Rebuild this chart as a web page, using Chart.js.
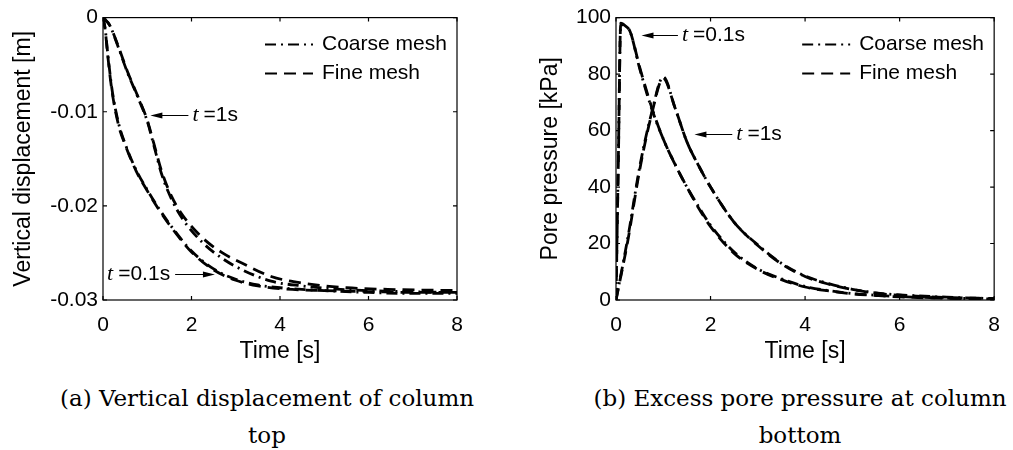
<!DOCTYPE html>
<html>
<head>
<meta charset="utf-8">
<script src="https://cdn.jsdelivr.net/npm/chart.js@4.4.0/dist/chart.umd.min.js"></script>
<style>
body { margin: 0; background: #fff; width: 1013px; height: 450px; overflow: hidden; position: relative; }
.box { position: absolute; top: 0; }
.cap { position: absolute; top: 380px; width: 500px; font-family: "DejaVu Serif", serif; font-size: 23px; color: #000; text-align: center; line-height: 37px; white-space: nowrap; }
</style>
</head>
<body>
<div class="box" style="left:0px"><canvas id="dispChart" width="500" height="380"></canvas></div>
<div class="box" style="left:506px"><canvas id="poreChart" width="507" height="380"></canvas></div>
<div class="cap" style="left:17px">(a) Vertical displacement of column<br>top</div>
<div class="cap" style="left:550px">(b) Excess pore pressure at column<br>bottom</div>
<script>
// time axis shared by both plots
var timeTicks = [0, 2, 4, 6, 8];

// (a) vertical displacement of column top [m]
var dispTickValues = [0, -0.01, -0.02, -0.03];
var dispTickLabels = ['0', '-0.01', '-0.02', '-0.03'];

var dispTimeFast = [0, 0.05, 0.1, 0.2, 0.35, 0.5, 0.75, 1.0, 1.25, 1.5, 2.0, 2.5, 3.0, 3.5, 4.0, 5.0, 6.0, 7.0, 8.0];
var dispCoarseFast = [0, -0.0012, -0.0035, -0.0075, -0.0112, -0.0134, -0.0162, -0.0183, -0.0202, -0.0219, -0.0248, -0.0267, -0.0278, -0.0284, -0.0287, -0.0290, -0.0292, -0.0293, -0.0293];
var dispFineFast = [0, -0.0013, -0.0037, -0.0077, -0.0114, -0.0135, -0.0163, -0.0184, -0.0203, -0.0220, -0.0249, -0.0268, -0.0279, -0.0285, -0.0288, -0.0290, -0.0291, -0.0292, -0.0292];

var dispTimeSlow = [0, 0.15, 0.35, 0.55, 0.8, 1.0, 1.15, 1.33, 1.55, 1.8, 2.25, 2.7, 3.15, 3.8, 4.5, 5.5, 6.7, 8.0];
var dispCoarseSlow = [0, -0.0008, -0.0032, -0.0058, -0.0086, -0.0110, -0.0136, -0.0167, -0.0193, -0.0214, -0.0239, -0.0256, -0.0268, -0.0280, -0.0285, -0.0289, -0.0291, -0.0292];
var dispFineSlow = [0, -0.0008, -0.0031, -0.0057, -0.0085, -0.0109, -0.0134, -0.0164, -0.0190, -0.0210, -0.0234, -0.0250, -0.0261, -0.0275, -0.0282, -0.0287, -0.0289, -0.0290];

// (b) excess pore pressure at column bottom [kPa]
var poreTickValues = [0, 20, 40, 60, 80, 100];
var poreTickLabels = ['0', '20', '40', '60', '80', '100'];

var poreTimeFast = [0, 0.05, 0.1, 0.2, 0.3, 0.5, 0.75, 1.0, 1.25, 1.5, 1.75, 2.0, 2.5, 3.0, 3.5, 4.0, 4.5, 5.0, 5.5, 6.0, 7.0, 8.0];
var poreCoarseFast = [0, 50, 98, 97, 95, 82, 68, 57, 48, 40, 33, 26.5, 17, 11, 7.5, 4.8, 3.3, 2.3, 1.7, 1.2, 0.7, 0.3];
var poreFineFast = [0, 49, 97.5, 97, 95, 82.5, 68.5, 57, 48, 40, 32.5, 26, 16.5, 10.8, 7.2, 4.6, 3.2, 2.2, 1.6, 1.1, 0.6, 0.3];

var poreTimeSlow = [0, 0.25, 0.5, 0.75, 1.0, 1.25, 1.5, 1.75, 2.0, 2.5, 3.0, 3.5, 4.0, 4.5, 5.0, 5.5, 6.0, 7.0, 8.0];
var poreCoarseSlow = [0, 22, 47, 66, 79, 68, 56, 47.5, 40, 27.5, 19.5, 13, 8.5, 5.8, 3.8, 2.5, 1.8, 1.0, 0.5];
var poreFineSlow = [0, 21, 46, 65.5, 78.5, 68, 56, 47.5, 40, 27.5, 19.3, 12.8, 8.3, 5.6, 3.7, 2.4, 1.7, 0.9, 0.5];

var seriesNames = ['Coarse mesh', 'Fine mesh'];
var seriesDash = [[11, 5, 2, 5], [12, 7]];

Chart.defaults.font.family = '"Liberation Sans", Arial, sans-serif';
Chart.defaults.font.size = 21;
Chart.defaults.color = '#000';

function pts(xs, ys) {
    return xs.map(function(x, i) { return {x: x, y: ys[i]}; });
}

function curve(xs, ys, dash) {
    return {
        data: pts(xs, ys),
        borderColor: '#000',
        borderWidth: 2.8,
        borderDash: dash,
        pointRadius: 0,
        fill: false,
        cubicInterpolationMode: 'monotone'
    };
}

// MATLAB style box with inward ticks on all four sides
var frameTicks = {
    id: 'frameTicks',
    afterDraw: function(chart) {
        var ctx = chart.ctx, a = chart.chartArea;
        var xs = chart.scales.x, ys = chart.scales.y;
        ctx.save();
        ctx.strokeStyle = '#000';
        ctx.lineWidth = 1.2;
        ctx.strokeRect(a.left, a.top, a.right - a.left, a.bottom - a.top);
        ctx.beginPath();
        xs.ticks.forEach(function(t) {
            var px = xs.getPixelForValue(t.value);
            ctx.moveTo(px, a.bottom); ctx.lineTo(px, a.bottom - 4);
            ctx.moveTo(px, a.top); ctx.lineTo(px, a.top + 4);
        });
        ys.ticks.forEach(function(t) {
            var py = ys.getPixelForValue(t.value);
            ctx.moveTo(a.left, py); ctx.lineTo(a.left + 4, py);
            ctx.moveTo(a.right, py); ctx.lineTo(a.right - 4, py);
        });
        ctx.stroke();
        ctx.restore();
    }
};

// legend in the top right corner of the plot box
var boxLegend = {
    id: 'boxLegend',
    afterDraw: function(chart) {
        var ctx = chart.ctx, a = chart.chartArea;
        ctx.save();
        seriesNames.forEach(function(name, i) {
            var y = a.top + 27 + i * 29;
            ctx.strokeStyle = '#000';
            ctx.lineWidth = 2;
            ctx.setLineDash(seriesDash[i]);
            ctx.beginPath();
            ctx.moveTo(a.right - 192, y);
            ctx.lineTo(a.right - 144, y);
            ctx.stroke();
            ctx.setLineDash([]);
            ctx.fillStyle = '#000';
            ctx.font = '21px "Liberation Sans", Arial, sans-serif';
            ctx.textBaseline = 'middle';
            ctx.textAlign = 'left';
            ctx.fillText(name, a.right - 135, y);
        });
        ctx.restore();
    }
};

// "t =..." arrows, given in data units
var arrowNotes = {
    id: 'arrowNotes',
    afterDraw: function(chart, args, opts) {
        var ctx = chart.ctx, xs = chart.scales.x, ys = chart.scales.y;
        ctx.save();
        (opts.notes || []).forEach(function(n) {
            var tipX = xs.getPixelForValue(n.tip[0]);
            var tailX = xs.getPixelForValue(n.tail);
            var y = Math.round(ys.getPixelForValue(n.tip[1])) + 0.5;
            var dir = tipX < tailX ? 1 : -1;
            ctx.strokeStyle = '#000';
            ctx.fillStyle = '#000';
            ctx.lineWidth = 1;
            ctx.beginPath();
            ctx.moveTo(tailX, y);
            ctx.lineTo(tipX + dir * 6, y);
            ctx.stroke();
            ctx.beginPath();
            ctx.moveTo(tipX, y);
            ctx.lineTo(tipX + dir * 12, y - 3);
            ctx.lineTo(tipX + dir * 12, y + 3);
            ctx.closePath();
            ctx.fill();

            var tFont = 'italic 22px "Liberation Serif", serif';
            var rFont = '21px "Liberation Sans", Arial, sans-serif';
            ctx.textBaseline = 'middle';
            ctx.textAlign = 'left';
            ctx.font = tFont;
            var tw = ctx.measureText('t').width;
            ctx.font = rFont;
            var rw = ctx.measureText(n.label).width;
            var x0 = dir > 0 ? tailX + 4 : tailX - 5 - (tw + 5 + rw);
            ctx.font = tFont;
            ctx.fillText('t', x0, y);
            ctx.font = rFont;
            ctx.fillText(n.label, x0 + tw + 5, y);
        });
        ctx.restore();
    }
};

function makeOptions(cfg) {
    return {
        responsive: false,
        animation: false,
        layout: { padding: { top: cfg.top, right: cfg.right, left: 0, bottom: 0 } },
        plugins: {
            legend: { display: false },
            tooltip: { enabled: false },
            arrowNotes: { notes: cfg.notes }
        },
        scales: {
            x: {
                type: 'linear', min: 0, max: 8,
                afterBuildTicks: function(s) { s.ticks = timeTicks.map(function(v) { return {value: v}; }); },
                ticks: { padding: 13, maxRotation: 0, callback: function(v) { return String(v); } },
                grid: { display: false, drawTicks: false },
                border: { display: false },
                title: { display: true, text: 'Time [s]', font: { size: 23 }, padding: { top: 0, bottom: 15 } },
                afterFit: function(s) { s.height = 80; }
            },
            y: {
                type: 'linear', min: cfg.ymin, max: cfg.ymax,
                afterBuildTicks: function(s) { s.ticks = cfg.tickValues.map(function(v) { return {value: v}; }); },
                ticks: { padding: 5, callback: function(v, i) { return cfg.tickLabels[i]; } },
                grid: { display: false, drawTicks: false },
                border: { display: false },
                title: { display: true, text: cfg.ytitle, font: { size: 23 }, padding: { top: cfg.titlePad, bottom: 0 } },
                afterFit: function(s) { s.width = cfg.yw; }
            }
        }
    };
}

new Chart(document.getElementById('dispChart'), {
    type: 'line',
    data: {
        datasets: [
            curve(dispTimeFast, dispCoarseFast, seriesDash[0]),
            curve(dispTimeFast, dispFineFast, seriesDash[1]),
            curve(dispTimeSlow, dispCoarseSlow, seriesDash[0]),
            curve(dispTimeSlow, dispFineSlow, seriesDash[1])
        ]
    },
    options: makeOptions({
        top: 15, right: 43, yw: 103, titlePad: 10,
        ymin: -0.03, ymax: 0,
        tickValues: dispTickValues, tickLabels: dispTickLabels,
        ytitle: 'Vertical displacement [m]',
        notes: [
            { tip: [1.07, -0.0103], tail: 1.93, label: '=1s' },
            { tip: [2.53, -0.0272], tail: 1.63, label: '=0.1s' }
        ]
    }),
    plugins: [frameTicks, boxLegend, arrowNotes]
});

new Chart(document.getElementById('poreChart'), {
    type: 'line',
    data: {
        datasets: [
            curve(poreTimeFast, poreCoarseFast, seriesDash[0]),
            curve(poreTimeFast, poreFineFast, seriesDash[1]),
            curve(poreTimeSlow, poreCoarseSlow, seriesDash[0]),
            curve(poreTimeSlow, poreFineSlow, seriesDash[1])
        ]
    },
    options: makeOptions({
        top: 16, right: 17, yw: 110, titlePad: 31,
        ymin: 0, ymax: 100,
        tickValues: poreTickValues, tickLabels: poreTickLabels,
        ytitle: 'Pore pressure [kPa]',
        notes: [
            { tip: [0.54, 93.9], tail: 1.31, label: '=0.1s' },
            { tip: [1.66, 58.8], tail: 2.46, label: '=1s' }
        ]
    }),
    plugins: [frameTicks, boxLegend, arrowNotes]
});
</script>
</body>
</html>
